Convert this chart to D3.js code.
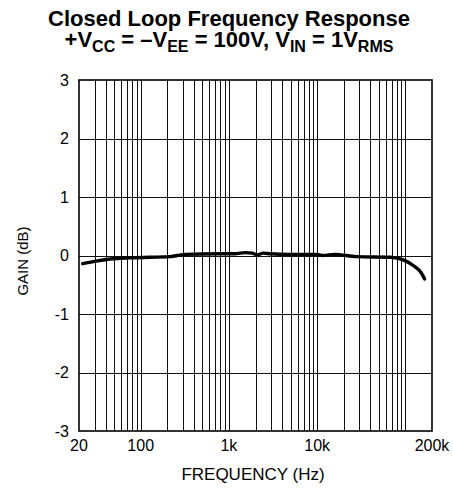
<!DOCTYPE html>
<html>
<head>
<meta charset="utf-8">
<script src="https://cdn.jsdelivr.net/npm/d3@7"></script>
<style>
  html, body { margin: 0; padding: 0; background: #fff; }
  svg { display: block; font-family: "Liberation Sans", Arial, Helvetica, sans-serif; }
</style>
</head>
<body>
<div id="chart"></div>
<script>
// Closed-loop gain versus frequency
const freqHz = [22, 30, 45, 75, 127, 214, 258, 318, 790, 1170, 1530, 1830, 2100, 2450, 2920, 4900, 9800, 11600, 15800, 28000, 68000, 96000, 125000, 150000, 165000];
const gainDb = [-0.14, -0.1, -0.06, -0.04, -0.03, -0.02, 0.0, 0.02, 0.03, 0.03, 0.05, 0.04, 0.01, 0.04, 0.03, 0.02, 0.02, 0.0, 0.02, -0.02, -0.03, -0.08, -0.18, -0.29, -0.4];

const xTickValues = [20, 100, 1000, 10000, 200000];
const xTickLabels = ["20", "100", "1k", "10k", "200k"];
const yTickValues = [-3, -2, -1, 0, 1, 2, 3];
const yTickLabels = ["-3", "-2", "-1", "0", "1", "2", "3"];

const width = 453, height = 488;
const plot = { left: 79, right: 432, top: 80, bottom: 431 };

const svg = d3.select("#chart").append("svg")
  .attr("width", width).attr("height", height);

const x = d3.scaleLog().domain([20, 200000]).range([plot.left, plot.right]);
const y = d3.scaleLinear().domain([-3, 3]).range([plot.bottom, plot.top]);

// Log grid: every 1..9 multiple per decade inside the domain
const gridX = [];
for (let d = 10; d <= 100000; d *= 10) {
  for (let m = 1; m <= 9; m++) {
    const v = m * d;
    if (v > 20 && v < 200000) gridX.push(v);
  }
}

const grid = svg.append("g").attr("stroke", "#111").attr("stroke-width", 1);
grid.selectAll("line.v").data(gridX).join("line")
  .attr("class", "v")
  .attr("x1", d => Math.round(x(d)) + 0.5).attr("x2", d => Math.round(x(d)) + 0.5)
  .attr("y1", plot.top).attr("y2", plot.bottom);
grid.selectAll("line.h").data(yTickValues.slice(1, -1)).join("line")
  .attr("class", "h")
  .attr("x1", plot.left).attr("x2", plot.right)
  .attr("y1", d => Math.round(y(d)) + 0.5).attr("y2", d => Math.round(y(d)) + 0.5);

// Plot frame
svg.append("rect")
  .attr("x", plot.left).attr("y", plot.top)
  .attr("width", plot.right - plot.left).attr("height", plot.bottom - plot.top)
  .attr("fill", "none").attr("stroke", "#000").attr("stroke-width", 1.6);

// Response curve
const line = d3.line()
  .x((d, i) => x(freqHz[i]))
  .y(d => y(d))
  .curve(d3.curveMonotoneX);
svg.append("path")
  .datum(gainDb)
  .attr("d", line)
  .attr("fill", "none")
  .attr("stroke", "#000")
  .attr("stroke-width", 3.4)
  .attr("stroke-linecap", "round")
  .attr("stroke-linejoin", "round");

// Y tick labels
svg.append("g").selectAll("text").data(yTickValues).join("text")
  .attr("x", 69)
  .attr("y", d => y(d) + 5.5)
  .attr("text-anchor", "end")
  .attr("font-size", 16)
  .attr("fill", "#000")
  .text((d, i) => yTickLabels[i]);

// X tick labels
svg.append("g").selectAll("text").data(xTickValues).join("text")
  .attr("x", d => x(d))
  .attr("y", 451)
  .attr("text-anchor", "middle")
  .attr("font-size", 16)
  .attr("fill", "#000")
  .text((d, i) => xTickLabels[i]);

// Axis titles
svg.append("text")
  .attr("x", 253).attr("y", 480)
  .attr("text-anchor", "middle")
  .attr("font-size", 17)
  .text("FREQUENCY (Hz)");

svg.append("text")
  .attr("transform", "translate(28,261) rotate(-90)")
  .attr("text-anchor", "middle")
  .attr("font-size", 15)
  .text("GAIN (dB)");

// Chart title
svg.append("text")
  .attr("x", 229).attr("y", 26)
  .attr("text-anchor", "middle")
  .attr("font-size", 22).attr("font-weight", "bold")
  .text("Closed Loop Frequency Response");

const sub = svg.append("text")
  .attr("x", 229).attr("y", 46.5)
  .attr("text-anchor", "middle")
  .attr("font-size", 22).attr("font-weight", "bold");
const parts = [
  ["+V", false], ["CC", true], [" = \u2013V", false], ["EE", true],
  [" = 100V, V", false], ["IN", true], [" = 1V", false], ["RMS", true]
];
parts.forEach(([t, isSub], i) => {
  const prevSub = i > 0 && parts[i - 1][1];
  const ts = sub.append("tspan").text(t)
    .attr("dy", isSub ? 5 : (prevSub ? -5 : 0));
  if (isSub) ts.attr("font-size", 16);
});
</script>
</body>
</html>
